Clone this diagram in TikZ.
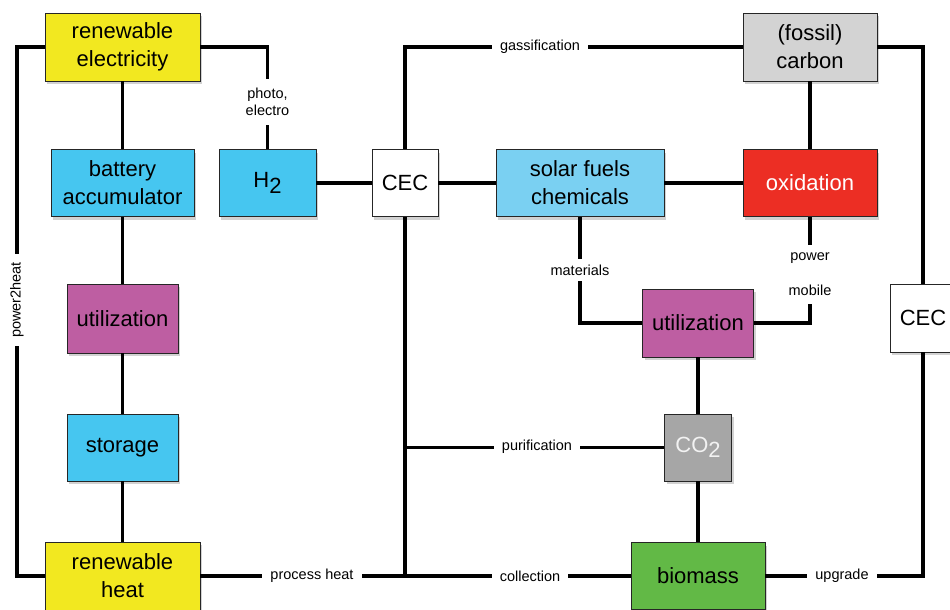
\documentclass[tikz,border=0pt]{standalone}
\usepackage{fontspec}
\setmainfont{Liberation Sans}
\usetikzlibrary{shadows}
\definecolor{cyel}{RGB}{242,232,32}
\definecolor{cblue}{RGB}{70,198,240}
\definecolor{clblue}{RGB}{122,208,242}
\definecolor{cpurp}{RGB}{190,94,162}
\definecolor{cred}{RGB}{236,46,36}
\definecolor{cfos}{RGB}{211,211,211}
\definecolor{cco}{RGB}{166,166,166}
\definecolor{cgreen}{RGB}{98,185,70}
\tikzset{
  box/.style={draw=black!85, line width=0.9pt, rectangle, inner sep=0pt, align=center,
    font=\fontsize{22}{28}\selectfont,
    drop shadow={shadow xshift=2pt, shadow yshift=-3pt, opacity=0.35}},
  conn/.style={line width=3.9pt, line cap=butt, line join=miter},
  lbl/.style={fill=white, inner xsep=8pt, inner ysep=3pt, align=center,
    font=\fontsize{14.5}{17}\selectfont}
}
\begin{document}
\begin{tikzpicture}[x=1pt,y=-1pt]
\useasboundingbox (0,0) rectangle (950,610);
\fill[white] (0,0) rectangle (950,610);
% nodes
\node[box, fill=cyel, minimum width=155pt, minimum height=68pt] (re) at (122.5,47) {renewable\\electricity};
\node[box, fill=cblue, minimum width=143pt, minimum height=67pt] (batt) at (122.5,183) {battery\\accumulator};
\node[box, fill=cblue, minimum width=97pt, minimum height=67pt] (h2) at (267.5,183) {H\raisebox{-0.45ex}{2}};
\node[box, fill=white, minimum width=66pt, minimum height=67pt] (cec1) at (405,183) {CEC};
\node[box, fill=clblue, minimum width=168pt, minimum height=67pt] (solar) at (580,183) {solar fuels\\chemicals};
\node[box, fill=cfos, minimum width=134pt, minimum height=68pt] (fossil) at (810,47) {(fossil)\\carbon};
\node[box, fill=cred, text=white, minimum width=134pt, minimum height=67pt] (oxid) at (810,183) {oxidation};
\node[box, fill=cpurp, minimum width=111pt, minimum height=69pt] (util1) at (122.5,318.5) {utilization};
\node[box, fill=cblue, minimum width=111pt, minimum height=67pt] (stor) at (122.5,447.5) {storage};
\node[box, fill=cyel, minimum width=155pt, minimum height=68pt] (rheat) at (122.5,576) {renewable\\heat};
\node[box, fill=cpurp, minimum width=111pt, minimum height=68pt] (util2) at (698,323) {utilization};
\node[box, fill=cco, text=white!95!black, minimum width=67pt, minimum height=67pt] (co2) at (698,447.5) {CO\raisebox{-0.45ex}{2}};
\node[box, fill=cgreen, minimum width=134pt, minimum height=67pt] (bio) at (698,576) {biomass};
\node[box, fill=white, minimum width=66pt, minimum height=68pt] (cec2) at (923,318) {CEC};
% helper coordinates
\coordinate (lx) at (17,0);
\coordinate (jmid) at (405,447.5);
\coordinate (jbot) at (405,576);
% connectors
\draw[conn] (re.west) -- (re.west -| lx) -- (rheat.west -| lx) -- (rheat.west);
\draw[conn] (re.east) -| (h2.north);
\draw[conn] (re.south) -- (batt.north);
\draw[conn] (batt.south) -- (util1.north);
\draw[conn] (util1.south) -- (stor.north);
\draw[conn] (stor.south) -- (rheat.north);
\draw[conn] (h2.east) -- (cec1.west);
\draw[conn] (cec1.east) -- (solar.west);
\draw[conn] (solar.east) -- (oxid.west);
\draw[conn] (fossil.south) -- (oxid.north);
\draw[conn] (cec1.north) |- (fossil.west);
\draw[conn] (fossil.east) -| (cec2.north);
\draw[conn] (cec2.south) |- (bio.east);
\draw[conn] (rheat.east) -- (jbot) -- (bio.west);
\draw[conn] (cec1.south) -- (jbot);
\draw[conn] (jmid) -- (co2.west);
\draw[conn] (solar.south) |- (util2.west);
\draw[conn] (oxid.south) |- (util2.east);
\draw[conn] (util2.south) -- (co2.north);
\draw[conn] (co2.south) -- (bio.north);
% labels
\node[lbl, rotate=90] (lp2h) at (17,300) {power2heat};
\node[lbl, inner ysep=9pt] (lphoto) at (267.5,102) {photo,\\electro};
\node[lbl] (lgas) at (540,47) {gassification};
\node[lbl] (lph) at (312,576) {process heat};
\node[lbl] (lcol) at (530,576) {collection};
\node[lbl] (lpur) at (537,447) {purification};
\node[lbl] (lupg) at (842,576) {upgrade};
\node[lbl, inner ysep=6pt] (lmat) at (580,270) {materials};
\node[lbl, inner ysep=8pt] (lpow) at (810,274.5) {power\\[18pt]mobile};
\end{tikzpicture}
\end{document}
